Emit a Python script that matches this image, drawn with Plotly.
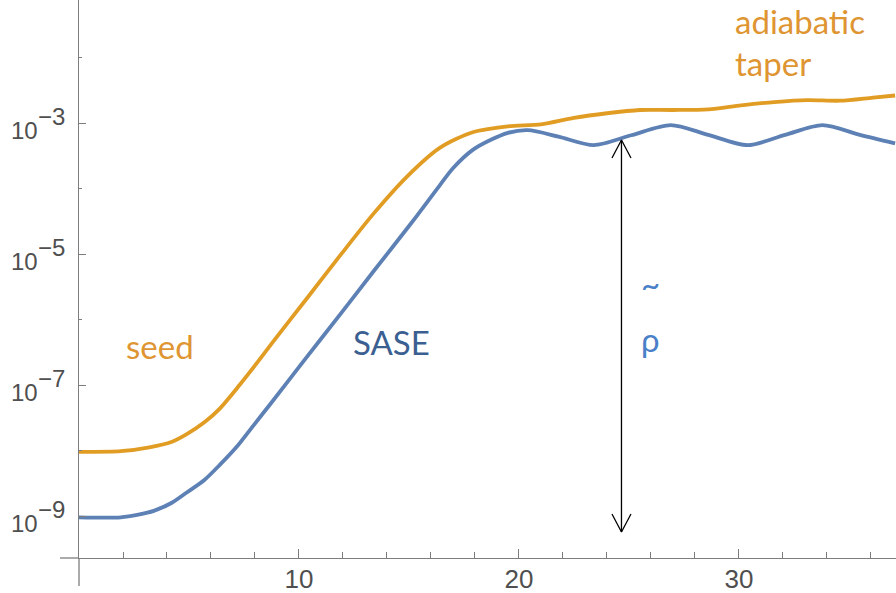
import math
import plotly.graph_objects as go

# Radiated power along the undulator: SASE start-up vs. a seeded FEL
z_sase = [0.0, 1.9, 2.7, 3.4, 4.2, 4.9, 5.7, 6.4, 7.2, 7.9, 8.7, 10.2, 11.9, 13.4,
          15.1, 16.4, 17.0, 17.9, 18.7, 19.5, 20.4, 21.8, 23.4, 25.1, 26.9, 28.6,
          30.4, 32.1, 33.8, 35.5, 37.1]
p_sase = [9.55e-10, 9.55e-10, 1.05e-9, 1.2e-9, 1.58e-9, 2.29e-9, 3.55e-9, 6.03e-9,
          1.17e-8, 2.34e-8, 5.13e-8, 2.29e-7, 1.23e-6, 5.5e-6, 2.95e-5, 1.12e-4,
          2.04e-4, 3.89e-4, 5.5e-4, 7.08e-4, 7.76e-4, 6.2e-4, 4.6e-4, 6.5e-4,
          9.3e-4, 6.6e-4, 4.6e-4, 6.6e-4, 9.3e-4, 6.6e-4, 4.9e-4]

z_seed = [0.0, 1.9, 3.2, 4.2, 4.9, 5.7, 6.4, 7.3, 8.1, 8.8, 10.4, 11.9, 13.4, 14.9,
          16.4, 17.9, 19.5, 21.0, 22.5, 24.0, 25.5, 27.0, 28.6, 30.1, 31.6, 33.1,
          34.6, 36.1, 37.1]
p_seed = [9.55e-9, 9.77e-9, 1.12e-8, 1.35e-8, 1.78e-8, 2.69e-8, 4.37e-8, 1.0e-7,
          2.19e-7, 4.47e-7, 2.19e-6, 9.77e-6, 4.17e-5, 1.51e-4, 4.17e-4, 7.24e-4,
          8.91e-4, 9.55e-4, 1.2e-3, 1.41e-3, 1.58e-3, 1.58e-3, 1.62e-3, 1.86e-3,
          2.09e-3, 2.24e-3, 2.19e-3, 2.45e-3, 2.63e-3]

x_ticks = [10, 20, 30]
x_minor = [2, 4, 6, 8, 12, 14, 16, 18, 22, 24, 26, 28, 32, 34, 36]
y_ticks = [1e-9, 1e-7, 1e-5, 1e-3]
y_exponents = ["\u22129", "\u22127", "\u22125", "\u22123"]
y_minor = [1e-8, 1e-6, 1e-4, 1e-2]

# saturation-gap arrow (~rho) between the SASE dip and the start-up level
rho_x = 24.66
rho_top = 5.5e-4
rho_bottom = 5.7e-10

X_RANGE = [0, 37.14]
Y_RANGE = [-9.641, -1.122]          # log10 units
MARGIN = dict(l=79, r=0, t=0, b=35)
PLOT_W, PLOT_H = 896 - MARGIN["l"], 593 - MARGIN["b"]

BLUE = "#5E81B5"
ORANGE = "#E19C24"
AXIS = "#7d7d7d"
LABEL = "#4f4f4f"
TEXT_FONT = "Lato"
TICK_FONT = "Liberation Sans"

fig = go.Figure()
fig.add_trace(go.Scatter(x=z_seed, y=p_seed, mode="lines",
                         line=dict(color=ORANGE, width=3.8, shape="spline", smoothing=0.8),
                         hoverinfo="skip"))
fig.add_trace(go.Scatter(x=z_sase, y=p_sase, mode="lines",
                         line=dict(color=BLUE, width=3.8, shape="spline", smoothing=0.8),
                         hoverinfo="skip"))

# arrow shaft with open heads; head size given in screen pixels and converted
# to axis units
head_half_w = 9.5 * (X_RANGE[1] - X_RANGE[0]) / PLOT_W
head_len = 10 ** (18 * (Y_RANGE[1] - Y_RANGE[0]) / PLOT_H)
arrow_x = [rho_x - head_half_w, rho_x, rho_x + head_half_w, None,
           rho_x, rho_x, None,
           rho_x - head_half_w, rho_x, rho_x + head_half_w]
arrow_y = [rho_top / head_len, rho_top, rho_top / head_len, None,
           rho_top, rho_bottom, None,
           rho_bottom * head_len, rho_bottom, rho_bottom * head_len]
fig.add_trace(go.Scatter(x=arrow_x, y=arrow_y, mode="lines",
                         line=dict(color="black", width=1.3),
                         hoverinfo="skip", connectgaps=False))

fig.update_layout(
    width=896, height=593,
    margin=MARGIN,
    paper_bgcolor="white", plot_bgcolor="white",
    showlegend=False,
    xaxis=dict(
        range=X_RANGE, automargin=False, showline=True, linecolor=AXIS,
        linewidth=1.3, mirror=False, showgrid=False, zeroline=False,
        ticks="inside", ticklen=9, tickwidth=1.3, tickcolor=AXIS,
        tickmode="array", tickvals=x_ticks, ticktext=[str(v) for v in x_ticks],
        tickfont=dict(family=TICK_FONT, size=26, color=LABEL),
        ticklabelstandoff=-2,
        minor=dict(tickmode="array", tickvals=x_minor, ticks="inside", ticklen=6,
                   tickwidth=1.2, tickcolor=AXIS, showgrid=False),
    ),
    yaxis=dict(
        type="log", range=Y_RANGE, automargin=False, showline=True, linecolor=AXIS,
        linewidth=1.3, mirror=False, showgrid=False, zeroline=False,
        ticks="inside", ticklen=7, tickwidth=1.3, tickcolor=AXIS,
        tickmode="array", tickvals=y_ticks, showticklabels=False,
        minor=dict(tickmode="array", tickvals=y_minor, ticks="inside", ticklen=3,
                   tickwidth=1.2, tickcolor=AXIS, showgrid=False),
    ),
)

# power-of-ten tick labels: base "10" and a large raised exponent
for val, expo in zip(y_ticks, y_exponents):
    fig.add_annotation(text="10", x=0, xref="paper", xanchor="right", xshift=-39,
                       y=math.log10(val), yref="y", yanchor="middle", yshift=-7,
                       showarrow=False, font=dict(family=TICK_FONT, size=24, color=LABEL))
    fig.add_annotation(text=expo, x=0, xref="paper", xanchor="left", xshift=-43,
                       y=math.log10(val), yref="y", yanchor="middle", yshift=7,
                       showarrow=False, font=dict(family=TICK_FONT, size=24, color=LABEL))

# axis lines run a little past the crossing point
fig.add_shape(type="line", xref="paper", yref="paper", x0=-19 / PLOT_W, x1=0, y0=0, y1=0,
              line=dict(color=AXIS, width=1.3))
fig.add_shape(type="line", xref="paper", yref="paper", x0=0, x1=0, y0=-28 / PLOT_H, y1=0,
              line=dict(color=AXIS, width=1.3))

# curve labels (annotation positions on a log axis are given as exponents)
labels = [
    dict(text="seed", x=3.68, y=-6.40, color="#DE9532", xanchor="center"),
    dict(text="SASE", x=14.2, y=-6.34, color="#3C5F92", xanchor="center"),
    dict(text="~", x=26.0, y=-5.46, color="#4A80C8", xanchor="center"),
    dict(text="\u03c1", x=26.0, y=-6.29, color="#4A80C8", xanchor="center"),
    dict(text="adiabatic", x=29.75, y=-1.45, color="#DE9532", xanchor="left"),
    dict(text="taper", x=29.75, y=-2.09, color="#DE9532", xanchor="left"),
]
for lab in labels:
    fig.add_annotation(text=lab["text"], x=lab["x"], y=lab["y"], xref="x", yref="y",
                       xanchor=lab["xanchor"], yanchor="middle", showarrow=False,
                       font=dict(family=TEXT_FONT, size=33, color=lab["color"]))

fig.write_html("out.html")
